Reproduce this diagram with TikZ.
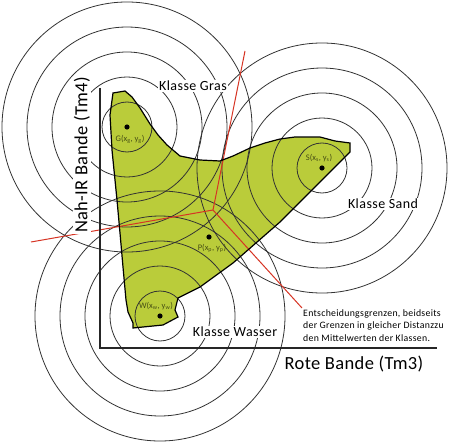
\documentclass[tikz,border=0pt]{standalone}
\usepackage{fontspec}
\setmainfont{Carlito}
\definecolor{blob}{RGB}{186,204,58}
\definecolor{grenze}{RGB}{214,52,36}
\definecolor{olive}{RGB}{70,78,20}
\begin{document}
\begin{tikzpicture}[x=1pt,y=-1pt]
\tikzstyle{ring}=[draw=black!80,line width=0.8pt]
\tikzstyle{label}=[fill=white,inner sep=1pt,font=\fontsize{14}{16}\selectfont\addfontfeatures{LetterSpace=3}]
\tikzstyle{mean}=[font=\fontsize{8.5}{9}\selectfont,text=olive,inner sep=0pt]
\useasboundingbox (0,0) rectangle (450,444);
\coordinate (G) at (127,127);
\coordinate (S) at (322,168);
\coordinate (W) at (160,316);
\coordinate (P) at (209,237);
\coordinate (o) at (100,348);
\coordinate (yt) at (100,88);
\coordinate (xe) at (437,348);
\coordinate (j) at (213,210);
\coordinate (r1) at (245,51);
\coordinate (r2) at (31,242);
\coordinate (r3) at (302,308);
\fill[blob] (113,93) -- (125,91) -- (132,97) -- (140,108) -- (150,124) -- (158,135)
  -- (167,145) -- (180,156) -- (200,160) -- (220,161) -- (233,156) -- (250,148)
  -- (265,143) -- (280,139) -- (295,137) -- (320,137) -- (335,141) -- (350,143)
  -- (350,152) -- (320,182) -- (280,222) -- (233,263) -- (200,287) -- (178,298)
  -- (175,310) -- (178,317) -- (163,325) -- (133,328) -- (133,323) -- (128,312)
  -- (126,300) -- (123,267) -- (120,233) -- (117,200) -- (112,150) -- (110,115) -- cycle;
\foreach \c in {G,S,W}
  \foreach \r in {25,50,...,125}
    \draw[ring] (\c) circle (\r pt);
\draw[grenze,line width=1pt] (r1) -- (j) -- (r2);
\draw[grenze,line width=1pt] (j) -- (r3);
\draw[line width=1.2pt] (113,93) -- (125,91) -- (132,97) -- (140,108) -- (150,124) -- (158,135)
  -- (167,145) -- (180,156) -- (200,160) -- (220,161) -- (233,156) -- (250,148)
  -- (265,143) -- (280,139) -- (295,137) -- (320,137) -- (335,141) -- (350,143)
  -- (350,152) -- (320,182) -- (280,222) -- (233,263) -- (200,287) -- (178,298)
  -- (175,310) -- (178,317) -- (163,325) -- (133,328) -- (133,323) -- (128,312)
  -- (126,300) -- (123,267) -- (120,233) -- (117,200) -- (112,150) -- (110,115) -- cycle;
\draw[black!85,line width=1.3pt] (yt) -- (o) -- (xe);
\foreach \c in {G,S,W,P}
  \fill (\c) circle (2.6pt);
\node[mean] (g) at (130,139) {G(x\textsubscript{g}, y\textsubscript{g})};
\node[mean] (s) at (319,158) {S(x\textsubscript{s}, y\textsubscript{s})};
\node[mean] (p) at (212,248) {P(x\textsubscript{p}, y\textsubscript{p})};
\node[mean] (w) at (156,306) {W(x\textsubscript{w}, y\textsubscript{w})};
\node[label] (a) at (193,86) {Klasse Gras};
\node[label] (b) at (383,204) {Klasse Sand};
\node[label] (c) at (235,332) {Klasse Wasser};
\node[label,font=\fontsize{18.5}{20}\selectfont\addfontfeatures{LetterSpace=2}] (x) at (354,364) {Rote Bande (Tm3)};
\node[label,font=\fontsize{18.5}{20}\selectfont\addfontfeatures{LetterSpace=2},rotate=90] (y) at (82,155) {Nah-IR Bande (Tm4)};
\node[fill=white,inner sep=1pt,anchor=north west,align=left,
  font=\fontsize{9.8}{12.7}\selectfont\addfontfeatures{LetterSpace=3}] (n) at (r3) {Entscheidungsgrenzen, beidseits\\
  der Grenzen in gleicher Distanzzu\\den Mittelwerten der Klassen.};
\end{tikzpicture}
\end{document}
